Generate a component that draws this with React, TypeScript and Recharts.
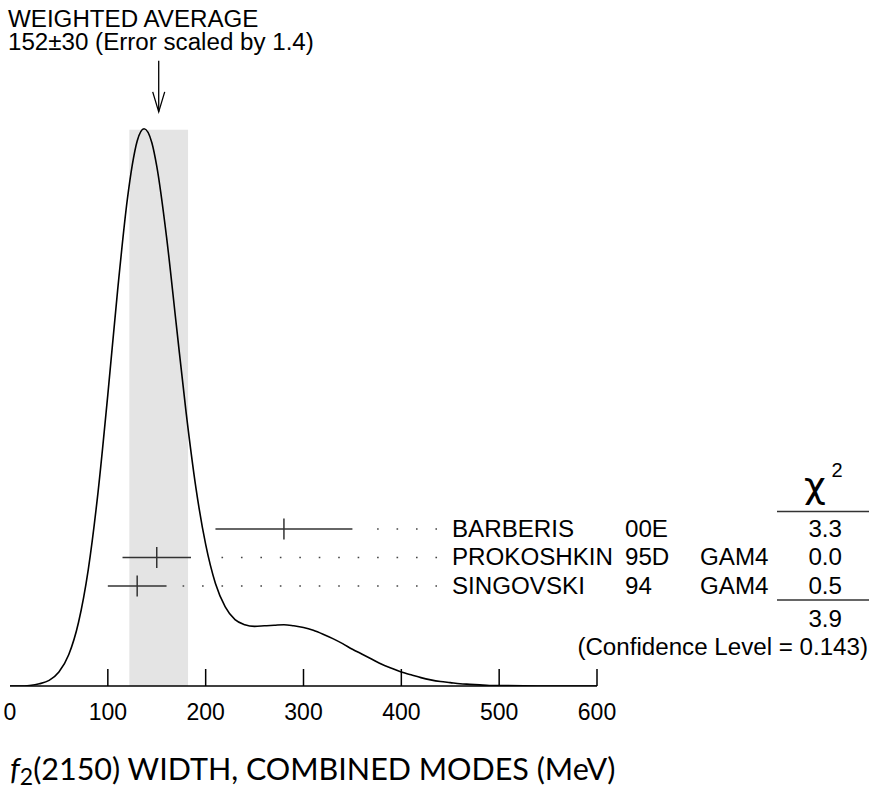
import React from "react";
import {
  ComposedChart,
  Line,
  Scatter,
  ErrorBar,
  XAxis,
  YAxis,
  ReferenceArea,
  ReferenceLine,
  ReferenceDot,
} from "recharts";

// ideogram (relative height, peak = 1)
const widthMeV = [
  0, 10, 20, 30, 40, 50, 60, 70, 80, 90, 100, 110, 120, 125, 130, 137, 145, 150, 160, 170, 180, 190,
  200, 210, 220, 230, 240, 250, 260, 270, 280, 290, 300, 310, 320, 330, 340, 350, 360, 370, 380, 390,
  400, 410, 420, 430, 440, 450, 460, 470, 480, 490, 500, 550, 600,
];
const ideogram = [
  0.0, 0.0, 0.001, 0.004, 0.01, 0.025, 0.056, 0.114, 0.209, 0.348, 0.523, 0.71, 0.874, 0.935, 0.978,
  1.0, 0.975, 0.933, 0.806, 0.648, 0.491, 0.356, 0.254, 0.184, 0.142, 0.119, 0.11, 0.107, 0.108,
  0.109, 0.11, 0.108, 0.105, 0.1, 0.093, 0.085, 0.076, 0.066, 0.057, 0.048, 0.039, 0.032, 0.025,
  0.02, 0.015, 0.011, 0.008, 0.006, 0.004, 0.003, 0.002, 0.001, 0.001, 0.0, 0.0,
];

const authors = ["BARBERIS", "PROKOSHKIN", "SINGOVSKI"];
const years = ["00E", "95D", "94"];
const techs = ["", "GAM4", "GAM4"];
const values = [280, 150, 130];
const errors = [70, 35, 30];
const chi2 = ["3.3", "0.0", "0.5"];

const avg = 152;
const avgErr = 30;
const chi2Total = "3.9";
const confLevel = "0.143";
const xTicks = [0, 100, 200, 300, 400, 500, 600];
const rowTicks = [0, 1, 2];

const curveData = widthMeV.map((x, i) => ({ x, y: ideogram[i] }));
const points = authors.map((author, i) => ({
  x: values[i],
  err: errors[i],
  row: i,
  author,
  year: years[i],
  tech: techs[i],
  chi2: chi2[i],
}));

const FONT = "'Liberation Sans', Arial, Helvetica, sans-serif";
const LEADER_END = 436.5;

function Txt({ x, y, anchor = "start", size = 23, sx = 1.05, family = FONT, children }: any) {
  return (
    <text
      transform={`translate(${x},${y}) scale(${sx},1)`}
      textAnchor={anchor}
      fontSize={size}
      fontFamily={family}
      fill="#000"
    >
      {children}
    </text>
  );
}

const RowMark = (props: any) => {
  const { cx, cy, payload } = props;
  return (
    <g>
      <line x1={cx} x2={cx} y1={cy - 10.5} y2={cy + 10.5} stroke="#333" strokeWidth={1.5} />
      <Txt x={452} y={cy + 8}>{payload.author}</Txt>
      <Txt x={625} y={cy + 8}>{payload.year}</Txt>
      <Txt x={700} y={cy + 8}>{payload.tech}</Txt>
      <Txt x={842} y={cy + 8} anchor="end">{payload.chi2}</Txt>
    </g>
  );
};

const Arrow = ({ cx, cy }: any) => (
  <g stroke="#000" strokeWidth={1.3} fill="none">
    <line x1={cx} y1={cy - 69} x2={cx} y2={cy - 18} />
    <polyline points={`${cx - 6},${cy - 38} ${cx},${cy - 18} ${cx + 6},${cy - 38}`} />
  </g>
);

const XTick = ({ x, y, payload }: any) => (
  <g>
    {payload.value > 0 && <line x1={x} x2={x} y1={y} y2={y - 17} stroke="#000" strokeWidth={1.5} />}
    <Txt x={x} y={y + 34} anchor="middle" sx={1}>
      {payload.value}
    </Txt>
  </g>
);

export default function App() {
  return (
    <div style={{ position: "absolute", left: 0, top: 0, width: 869, height: 791, background: "#fff" }}>
      <ComposedChart
        width={869}
        height={791}
        data={curveData}
        margin={{ top: 102, right: 272, bottom: 75, left: 10 }}
      >
        <XAxis
          type="number"
          dataKey="x"
          domain={[0, 600]}
          ticks={xTicks}
          height={30}
          tickSize={0}
          tickMargin={0}
          tickLine={false}
          axisLine={{ stroke: "#000", strokeWidth: 1.5 }}
          tick={<XTick />}
          interval={0}
        />
        <YAxis
          yAxisId="d"
          type="number"
          domain={[0, 1.048]}
          width={0}
          tick={false}
          tickLine={false}
          axisLine={{ stroke: "#000", strokeWidth: 1.5 }}
          allowDataOverflow
        />
        <YAxis
          yAxisId="rows"
          dataKey="row"
          type="number"
          domain={[-14.98, 5.51]}
          ticks={rowTicks}
          reversed
          hide
        />
        <ReferenceArea
          yAxisId="d"
          x1={avg - avgErr}
          x2={avg + avgErr}
          y1={0}
          y2={0.998}
          fill="#e4e4e4"
          fillOpacity={1}
          stroke="none"
        />
        {points.map((p) => (
          <ReferenceLine
            key={p.author}
            yAxisId="rows"
            segment={[
              { x: LEADER_END, y: p.row },
              { x: p.x + p.err + 15, y: p.row },
            ]}
            stroke="#444"
            strokeWidth={1.6}
            strokeDasharray="1.6 17.85"
          />
        ))}
        <Line
          yAxisId="d"
          type="monotone"
          dataKey="y"
          stroke="#000"
          strokeWidth={1.6}
          dot={false}
          isAnimationActive={false}
        />
        <Scatter yAxisId="rows" data={points} shape={<RowMark />} isAnimationActive={false}>
          <ErrorBar dataKey="err" direction="x" width={0} stroke="#333" strokeWidth={1.5} isAnimationActive={false} />
        </Scatter>
        <ReferenceDot yAxisId="d" x={avg} y={0.998} shape={<Arrow />} ifOverflow="visible" />
      </ComposedChart>
      <svg
        width={869}
        height={791}
        style={{ position: "absolute", left: 0, top: 0, pointerEvents: "none" }}
      >
        <Txt x={8} y={27}>WEIGHTED AVERAGE</Txt>
        <Txt x={8} y={50}>{`${avg}±${avgErr} (Error scaled by 1.4)`}</Txt>
        <Txt x={815} y={498} anchor="middle" size={36} sx={1.05} family="'DejaVu Sans', sans-serif">
          χ
        </Txt>
        <Txt x={837} y={477} anchor="middle" size={20} sx={1}>2</Txt>
        <line x1={777} x2={869} y1={511.5} y2={511.5} stroke="#333" strokeWidth={1.5} />
        <line x1={777} x2={869} y1={600} y2={600} stroke="#333" strokeWidth={1.5} />
        <Txt x={842} y={627} anchor="end">{chi2Total}</Txt>
        <Txt x={868} y={655} anchor="end">{`(Confidence Level = ${confLevel})`}</Txt>
        <text x={10} y={780} fontSize={30.5} fontFamily="Lato, 'Open Sans', sans-serif" fill="#000">
          <tspan fontStyle="italic">f</tspan>
          <tspan dy={5} fontSize={23}>2</tspan>
          <tspan dy={-5}>(2150) WIDTH, COMBINED MODES (MeV)</tspan>
        </text>
      </svg>
    </div>
  );
}
